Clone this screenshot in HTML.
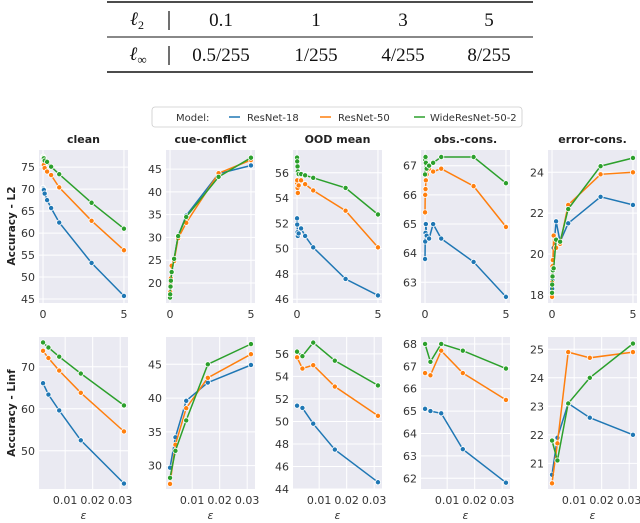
<!DOCTYPE html>
<html><head><meta charset="utf-8"><style>
body{margin:0;background:#fff;}
svg{display:block;font-family:"DejaVu Sans","Liberation Sans",sans-serif;}
</style></head><body>
<svg id="fig" width="640" height="523" viewBox="0 0 640 523">
<g font-family="Liberation Serif, serif" font-size="19" fill="#111">
<line x1="107" y1="2" x2="533" y2="2" stroke="#111" stroke-width="1.5"/>
<line x1="107" y1="37" x2="533" y2="37" stroke="#111" stroke-width="1"/>
<line x1="107" y1="72" x2="533" y2="72" stroke="#111" stroke-width="1.5"/>
<line x1="169" y1="11" x2="169" y2="30" stroke="#111" stroke-width="1.2"/>
<line x1="169" y1="46" x2="169" y2="65" stroke="#111" stroke-width="1.2"/>
<text x="137" y="25" text-anchor="middle" font-style="italic">ℓ<tspan font-size="12" dy="4" font-style="normal">2</tspan></text>
<text x="138" y="60" text-anchor="middle" font-style="italic">ℓ<tspan font-size="13" dy="4" font-style="normal">∞</tspan></text>
<text x="221" y="26" text-anchor="middle">0.1</text><text x="316" y="26" text-anchor="middle">1</text><text x="403" y="26" text-anchor="middle">3</text><text x="489" y="26" text-anchor="middle">5</text>
<text x="221" y="61" text-anchor="middle">0.5/255</text><text x="316" y="61" text-anchor="middle">1/255</text><text x="403" y="61" text-anchor="middle">4/255</text><text x="489" y="61" text-anchor="middle">8/255</text>
</g>
<g font-size="10" fill="#333">
<rect x="152" y="107" width="370" height="20" rx="3" fill="#fff" stroke="#ccc" stroke-width="0.8"/>
<text x="176" y="121">Model:</text>
<line x1="229" y1="117" x2="240" y2="117" stroke="#1f77b4" stroke-width="1.5"/><text x="247" y="121">ResNet-18</text>
<line x1="320" y1="117" x2="331" y2="117" stroke="#ff7f0e" stroke-width="1.5"/><text x="338" y="121">ResNet-50</text>
<line x1="414" y1="117" x2="425" y2="117" stroke="#2ca02c" stroke-width="1.5"/><text x="430" y="121">WideResNet-50-2</text>
</g>
<text transform="translate(15,226) rotate(-90)" text-anchor="middle" font-size="10.5" font-weight="bold" fill="#222">Accuracy - L2</text>
<text transform="translate(15,413) rotate(-90)" text-anchor="middle" font-size="10.5" font-weight="bold" fill="#222">Accuracy - Linf</text>
<g id="plots"></g>
</svg>
<script>
const titles = ["clean","cue-conflict","OOD mean","obs.-cons.","error-cons."];
const epsL2 = [0,0.01,0.03,0.05,0.1,0.25,0.5,1,3,5];
const epsLinf = [0.00196,0.00392,0.00784,0.01569,0.03137];
const l2R18 = [[70.3,70.2,70.0,69.8,69.0,67.5,65.7,62.4,53.2,45.7],[16.9,17.5,19.0,20.0,22.3,25.2,30.3,34.8,44.0,45.8],[52.4,51.9,51.3,51.0,51.2,51.6,51.0,50.1,47.6,46.3],[63.8,64.4,64.7,65.0,64.6,64.5,65.0,64.5,63.7,62.5],[18.0,18.3,18.7,19.2,20.3,21.6,20.6,21.5,22.8,22.4]];
const l2R50 = [[76.1,75.9,75.7,75.5,74.8,74.0,73.2,70.4,62.8,56.1],[17.2,18.0,19.5,21.0,23.8,24.8,29.8,33.2,44.1,47.0],[55.2,55.4,54.8,54.4,55.0,55.4,55.1,54.6,53.0,50.1],[65.4,66.0,66.2,66.5,66.7,66.9,66.8,66.9,66.3,64.9],[17.9,18.6,19.4,19.7,20.9,20.3,20.5,22.4,23.9,24.0]];
const l2WRN = [[77.4,77.3,77.1,77.0,76.5,76.2,75.1,73.4,66.9,61.0],[16.8,17.5,19.2,20.5,22.4,25.3,30.3,34.5,43.3,47.5],[57.2,56.9,56.5,56.1,55.9,55.9,55.8,55.6,54.8,52.7],[66.7,67.2,67.3,67.1,66.9,67.0,67.1,67.3,67.3,66.4],[18.1,18.5,18.9,19.2,19.3,20.7,20.6,22.2,24.3,24.7]];
const linfR18 = [[66.1,63.4,59.6,52.5,42.2],[29.7,34.2,39.6,42.3,44.9],[51.4,51.2,49.8,47.5,44.6],[65.1,65.0,64.9,63.3,61.8],[20.6,21.9,23.1,22.6,22.0]];
const linfR50 = [[73.8,72.1,69.1,63.8,54.6],[27.3,33.1,38.5,43.0,46.5],[55.7,54.7,55.0,53.1,50.5],[66.7,66.6,67.7,66.7,65.5],[20.3,21.7,24.9,24.7,24.9]];
const linfWRN = [[75.8,74.6,72.4,68.4,60.8],[28.2,32.2,36.7,45.0,48.0],[56.2,55.8,57.0,55.4,53.2],[68.0,67.2,68.0,67.7,66.9],[21.8,21.1,23.1,24.0,25.2]];
const yDomL2 = [[44.1,78.9],[15.6,49.2],[45.7,57.8],[62.29,67.54],[17.6,25.09]];
const yDomLinf = [[40.9,77.1],[26.55,49.04],[44.0,57.5],[61.52,68.31],[20.1,25.43]];
const yTicksL2 = [[45,50,55,60,65,70,75],[20,25,30,35,40,45],[46,48,50,52,54,56],[63,64,65,66,67],[18,20,22,24]];
const yTicksLinf = [[50,60,70],[30,35,40,45],[44,46,48,50,52,54,56],[62,63,64,65,66,67,68],[21,22,23,24,25]];
const xTicksL2 = [0,5];
const xTickLabelsL2 = ["0","5"];
const xTicksLinf = [0.01,0.02,0.03];
const xTickLabelsLinf = ["0.01","0.02","0.03"];
const colors = ["#1f77b4","#ff7f0e","#2ca02c"];
const NS="http://www.w3.org/2000/svg";
const root=document.getElementById('plots');
function mk(t,a,p){const e=document.createElementNS(NS,t);for(const k in a)e.setAttribute(k,a[k]);(p||root).appendChild(e);return e;}
const px=[39,166,293,421,548], pw=89;
function panel(row,i){
  const top=row?337:150, bot=row?489:303;
  const xs=row?epsLinf:epsL2;
  const xd=row?[0.00049,0.03284]:[-0.25,5.25];
  const yd=row?yDomLinf[i]:yDomL2[i];
  const X=v=>px[i]+(v-xd[0])/(xd[1]-xd[0])*pw;
  const Y=v=>bot-(v-yd[0])/(yd[1]-yd[0])*(bot-top);
  const g=mk('g',{});
  
  
  mk('rect',{x:px[i],y:top,width:pw,height:bot-top,fill:'#eaeaf2'},g);
  const yt=row?yTicksLinf[i]:yTicksL2[i];
  yt.forEach(t=>{const y=Y(t);
    mk('line',{x1:px[i],x2:px[i]+pw,y1:y,y2:y,stroke:'#fff','stroke-width':1},g);
    const tx=mk('text',{x:px[i]-4,y:y+4,'text-anchor':'end','font-size':11,fill:'#333'},g);tx.textContent=t;});
  const xt=row?xTicksLinf:xTicksL2, xl=row?xTickLabelsLinf:xTickLabelsL2;
  xt.forEach((t,k)=>{const x=X(t);
    mk('line',{x1:x,x2:x,y1:top,y2:bot,stroke:'#fff','stroke-width':1},g);
    const tx=mk('text',{x:x,y:bot+15,'text-anchor':'middle','font-size':11,fill:'#333'},g);tx.textContent=xl[k];});
  if(row){const e=mk('text',{x:px[i]+pw/2,y:519,'text-anchor':'middle','font-size':11,'font-style':'italic',fill:'#333'},g);e.textContent='ε';
    }
  else{const tt=mk('text',{x:px[i]+pw/2,y:143,'text-anchor':'middle','font-size':11,'font-weight':'bold',fill:'#222'},g);tt.textContent=titles[i];
    }
  const series=row?[linfR18[i],linfR50[i],linfWRN[i]]:[l2R18[i],l2R50[i],l2WRN[i]];
  series.forEach((s,si)=>{
    const pts=s.map((v,k)=>X(xs[k]).toFixed(1)+','+Y(v).toFixed(1)).join(' ');
    const pl=mk('polyline',{points:pts,fill:'none',stroke:colors[si],'stroke-width':1.5},g);
    
    
    s.forEach((v,k)=>{const c=mk('circle',{cx:X(xs[k]),cy:Y(v),r:2.6,fill:colors[si],stroke:'#fff','stroke-width':0.8},g);
      
      });
  });
}
for(let r=0;r<2;r++)for(let i=0;i<5;i++)panel(r,i);
</script>
</body></html>
